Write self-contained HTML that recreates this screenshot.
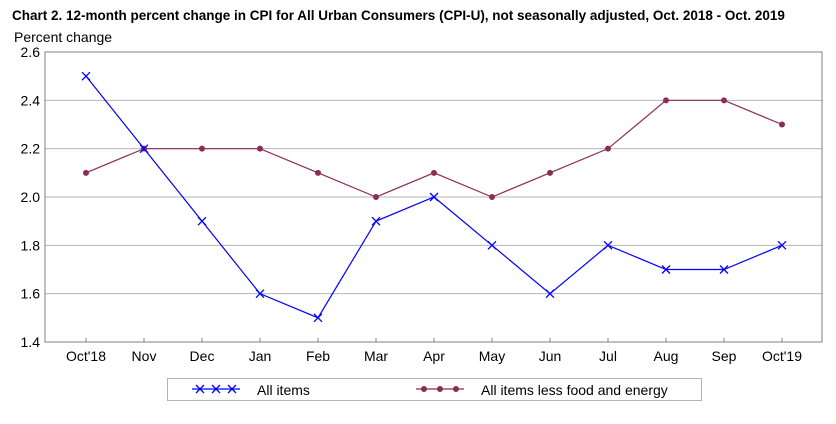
<!DOCTYPE html>
<html><head><meta charset="utf-8"><style>
body{margin:0;background:#fff;font-family:"Liberation Sans",sans-serif;}
svg{display:block}
</style></head><body>
<svg id="c" width="836" height="424">
<text x="12" y="20" font-size="13.5" font-weight="bold" fill="#000">Chart 2. 12-month percent change in CPI for All Urban Consumers (CPI-U), not seasonally adjusted, Oct. 2018 - Oct. 2019</text>
<text x="14" y="42" font-size="14" fill="#000">Percent change</text>
</svg>
<script>
const categories=["Oct'18","Nov","Dec","Jan","Feb","Mar","Apr","May","Jun","Jul","Aug","Sep","Oct'19"];
const allItems=[2.5,2.2,1.9,1.6,1.5,1.9,2.0,1.8,1.6,1.8,1.7,1.7,1.8];
const coreItems=[2.1,2.2,2.2,2.2,2.1,2.0,2.1,2.0,2.1,2.2,2.4,2.4,2.3];
const yTicks=[1.4,1.6,1.8,2.0,2.2,2.4,2.6];
const NS="http://www.w3.org/2000/svg";
const svg=document.getElementById('c');
const L=45,R=822,T=52,B=342,x0=86,x1=782;
const X=i=>x0+(x1-x0)*i/(categories.length-1);
const Y=v=>B-(v-1.4)/(2.6-1.4)*(B-T);
function mk(t,a){const e=document.createElementNS(NS,t);for(const k in a)e.setAttribute(k,a[k]);svg.appendChild(e);return e;}
yTicks.forEach(v=>{
  if(v>1.4&&v<2.6){const g=mk('line',{x1:L,x2:R,y1:Y(v),y2:Y(v),stroke:'#b4b4b4','stroke-width':1});
  
  }
  const t=mk('text',{x:40,y:Y(v)+5,'font-size':14,'text-anchor':'end',fill:'#000'});
  t.textContent=v.toFixed(1);
  
  
});
const fr=mk('rect',{x:L,y:T,width:R-L,height:B-T,fill:'none',stroke:'#808080','stroke-width':1});


categories.forEach((c,i)=>{
  const tk=mk('line',{x1:X(i),x2:X(i),y1:B,y2:B-4,stroke:'#808080'});
  
  
  const t=mk('text',{x:X(i),y:B+19,'font-size':14,'text-anchor':'middle',fill:'#000'});
  t.textContent=c;
  
  
});
function cross(cx,cy,col,name){const p=mk('path',{d:`M${cx-4},${cy-4}L${cx+4},${cy+4}M${cx-4},${cy+4}L${cx+4},${cy-4}`,stroke:col,'stroke-width':1.3,fill:'none'});

}
function dot(cx,cy,col,name){const d=mk('circle',{cx:cx,cy:cy,r:3,fill:col});

}
const l1=mk('polyline',{points:coreItems.map((v,i)=>X(i)+','+Y(v)).join(' '),fill:'none',stroke:'#8b2e55','stroke-width':1.2});


coreItems.forEach((v,i)=>dot(X(i),Y(v),'#8b2e55','core-point'));
const l2=mk('polyline',{points:allItems.map((v,i)=>X(i)+','+Y(v)).join(' '),fill:'none',stroke:'#0000ff','stroke-width':1.2});


allItems.forEach((v,i)=>cross(X(i),Y(v),'#0000ff','all-items-point'));
const lg=mk('rect',{x:167.5,y:378.5,width:534,height:22,fill:'#fff',stroke:'#b4b4b4'});


const a=mk('line',{x1:192,x2:240,y1:389,y2:389,stroke:'#0000ff','stroke-width':1.2});


[200,216,232].forEach(x=>cross(x,389,'#0000ff','legend-all-items-marker'));
const t1=mk('text',{x:257,y:395,'font-size':14,fill:'#000'});t1.textContent='All items';


const b=mk('line',{x1:416,x2:464,y1:389,y2:389,stroke:'#8b2e55','stroke-width':1.2});


[424,440,456].forEach(x=>dot(x,389,'#8b2e55','legend-core-marker'));
const t2=mk('text',{x:481,y:395,'font-size':14,fill:'#000'});t2.textContent='All items less food and energy';


</script>
</body></html>
